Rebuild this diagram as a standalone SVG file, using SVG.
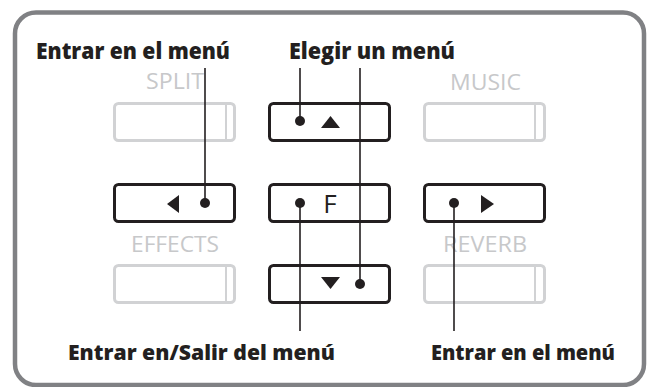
<svg xmlns="http://www.w3.org/2000/svg" width="647" height="387" viewBox="0 0 647 387">
<style>
.frame{fill:#fff;stroke:#808184;stroke-width:4.5}
.btn{fill:#fff;stroke:#231f20;stroke-width:3}
.gbtn{fill:#fff;stroke:#d1d2d4;stroke-width:3}
.gdiv{stroke:#d1d2d4;stroke-width:2}
.glbl{font-family:"Open Sans","Liberation Sans",sans-serif;font-size:21.5px;fill:#c7c8ca;text-anchor:middle}
.lbl{font-family:"Open Sans","Liberation Sans",sans-serif;font-weight:800;font-size:22.5px;fill:#231f20}
.lbl2{font-family:"Open Sans","Liberation Sans",sans-serif;font-weight:800;font-size:21.5px;fill:#231f20}
.sym{fill:#231f20}
.ftxt{font-family:"Open Sans","Liberation Sans",sans-serif;font-size:26px;fill:#231f20;text-anchor:middle}
.wire{stroke:#231f20;stroke-width:1.6;fill:none}
.dot{fill:#231f20}
</style>
<rect class="frame" x="15" y="12.5" width="629" height="372.5" rx="21"/>

<g id="split">
<text class="glbl" x="175" y="89" textLength="58" lengthAdjust="spacingAndGlyphs">SPLIT</text>
<rect class="gbtn" x="114.5" y="103.5" width="120" height="37" rx="4"/>
<line class="gdiv" x1="226" y1="104" x2="226" y2="140"/>
</g>
<g id="music">
<text class="glbl" x="485.5" y="90" textLength="71" lengthAdjust="spacingAndGlyphs">MUSIC</text>
<rect class="gbtn" x="424.5" y="103.5" width="120" height="37" rx="4"/>
<line class="gdiv" x1="535" y1="104" x2="535" y2="140"/>
</g>
<g id="effects">
<text class="glbl" x="175" y="252" textLength="88" lengthAdjust="spacingAndGlyphs">EFFECTS</text>
<rect class="gbtn" x="114.5" y="265.5" width="120" height="37" rx="4"/>
<line class="gdiv" x1="226" y1="266" x2="226" y2="302"/>
</g>
<g id="reverb">
<text class="glbl" x="485" y="252" textLength="84" lengthAdjust="spacingAndGlyphs">REVERB</text>
<rect class="gbtn" x="424.5" y="265.5" width="120" height="37" rx="4"/>
<line class="gdiv" x1="535" y1="266" x2="535" y2="302"/>
</g>

<g id="btn-up">
<rect class="btn" x="269.5" y="103.5" width="120" height="37" rx="4"/>
<polygon class="sym" points="321,128 340,128 330.5,116"/>
</g>
<g id="btn-left">
<rect class="btn" x="114.5" y="184.5" width="120" height="37" rx="4"/>
<polygon class="sym" points="179,195 179,213 167,204"/>
</g>
<g id="btn-f">
<rect class="btn" x="269.5" y="184.5" width="120" height="37" rx="4"/>
<text class="ftxt" x="330" y="213">F</text>
</g>
<g id="btn-right">
<rect class="btn" x="424.5" y="184.5" width="120" height="37" rx="4"/>
<polygon class="sym" points="481,195 481,213 494,204"/>
</g>
<g id="btn-down">
<rect class="btn" x="269.5" y="265.5" width="120" height="37" rx="4"/>
<polygon class="sym" points="321,277 340,277 330.5,289"/>
</g>

<g id="label-enter-left">
<text class="lbl" x="36" y="59" textLength="194" lengthAdjust="spacingAndGlyphs">Entrar en el menú</text>
</g>
<g id="label-choose">
<text class="lbl" x="289" y="59" textLength="166" lengthAdjust="spacingAndGlyphs">Elegir un menú</text>
</g>
<g id="label-enter-exit">
<text class="lbl2" x="68" y="360" textLength="267" lengthAdjust="spacingAndGlyphs">Entrar en/Salir del menú</text>
</g>
<g id="label-enter-right">
<text class="lbl2" x="431" y="360" textLength="184" lengthAdjust="spacingAndGlyphs">Entrar en el menú</text>
</g>

<g id="connectors">
<line class="wire" x1="205" y1="68" x2="205" y2="203"/>
<line class="wire" x1="300" y1="68" x2="300" y2="121"/>
<line class="wire" x1="360" y1="68" x2="360" y2="284"/>
<line class="wire" x1="300" y1="203" x2="300" y2="331"/>
<line class="wire" x1="454" y1="203" x2="454" y2="331"/>
<circle class="dot" cx="205" cy="203" r="5"/>
<circle class="dot" cx="300" cy="121" r="5"/>
<circle class="dot" cx="360" cy="284" r="5"/>
<circle class="dot" cx="300" cy="203" r="5"/>
<circle class="dot" cx="454" cy="203" r="5"/>
</g>
</svg>
